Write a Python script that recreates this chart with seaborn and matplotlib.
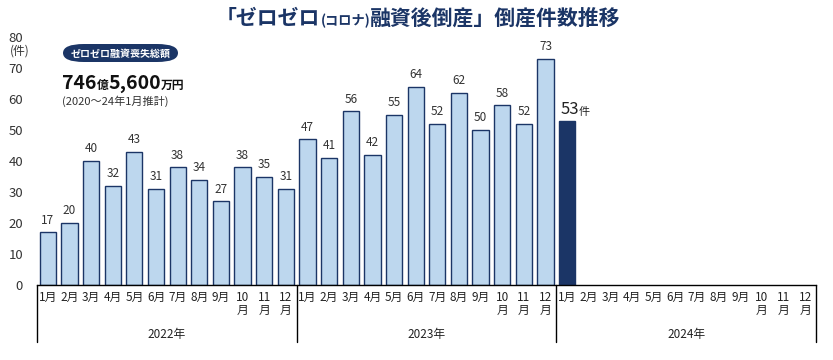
import numpy as np
import pandas as pd
import seaborn as sns
import matplotlib.pyplot as plt
from matplotlib.patches import FancyBboxPatch

years = ["2022年", "2023年", "2024年"]
month_labels = ["1月", "2月", "3月", "4月", "5月", "6月", "7月", "8月", "9月", "10\n月", "11\n月", "12\n月"]
counts_2022 = [17, 20, 40, 32, 43, 31, 38, 34, 27, 38, 35, 31]
counts_2023 = [47, 41, 56, 42, 55, 64, 52, 62, 50, 58, 52, 73]
counts_2024 = [53]

NAVY = "#1b3566"
LIGHT = "#bdd7ee"
TEXT = "#333333"

sns.set_style("white")
plt.rcParams["font.family"] = ["Noto Sans CJK JP", "DejaVu Sans"]

# build one row per month slot (36 slots, empty months are NaN)
rows = []
for yi, (yr, vals) in enumerate(zip(years, [counts_2022, counts_2023, counts_2024])):
    for m in range(12):
        v = vals[m] if m < len(vals) else np.nan
        rows.append({"slot": f"{yr}-{m + 1}", "count": v,
                     "kind": "latest" if (yr == "2024年" and m == 0) else "past"})
df = pd.DataFrame(rows)
order = list(df["slot"])

fig = plt.figure(figsize=(8.33, 3.6), dpi=100)
ax = fig.add_axes([37 / 833, 1 - 285 / 360, (816 - 37) / 833, (285 - 37) / 360])

sns.barplot(data=df.dropna(), x="slot", y="count", order=order, hue="kind",
            palette={"past": LIGHT, "latest": NAVY}, edgecolor=NAVY, linewidth=1.0,
            width=0.75, saturation=1, legend=False, ax=ax)

ax.set_xlim(-0.5, 35.5)
ax.set_ylim(0, 80)
ax.set_yticks(range(0, 81, 10))
ax.tick_params(axis="y", length=0, pad=10, labelsize=9.5, labelcolor=TEXT)
ax.set_xticks([])
ax.set_xlabel("")
ax.set_ylabel("")
for s in ["top", "right", "left"]:
    ax.spines[s].set_visible(False)
ax.spines["bottom"].set_color("black")
ax.spines["bottom"].set_linewidth(1.0)

# value labels
for i, row in df.iterrows():
    if np.isnan(row["count"]):
        continue
    if row["kind"] == "latest":
        ax.annotate(f"{int(row['count'])}", (i, row["count"]), xytext=(-5, 2),
                    textcoords="offset points", ha="left", va="bottom",
                    fontsize=12, color="#222222")
        ax.annotate("件", (i, row["count"]), xytext=(8, 3),
                    textcoords="offset points", ha="left", va="bottom",
                    fontsize=8, color="#222222")
    else:
        ax.annotate(f"{int(row['count'])}", (i, row["count"]), xytext=(0, 4),
                    textcoords="offset points", ha="center", va="bottom",
                    fontsize=8.5, color=TEXT)

# month & year labels below the axis
trans = ax.get_xaxis_transform()
for k in range(36):
    ax.text(k, -0.025, month_labels[k % 12], transform=trans, ha="center", va="top",
            fontsize=8.5, color="#222222", linespacing=1.0)
for yi, yr in enumerate(years):
    ax.text(yi * 12 + 5.5, -0.2, yr, transform=trans, ha="center", va="center",
            fontsize=8.5, color="#222222")
for xb in [-0.5, 11.5, 23.5, 35.5]:
    ax.plot([xb, xb], [0, -0.23], transform=trans, color="black", lw=1.0, clip_on=False)

# unit label
fig.text(10 / 833, 1 - 51 / 360, "(件)", fontsize=8.5, color=TEXT, va="center", ha="left")

renderer = fig.canvas.get_renderer()


def put_parts(x, y, parts, **kw):
    for s, size in parts:
        t = fig.text(x, y, s, fontsize=size, va="baseline", ha="left", **kw)
        bb = t.get_window_extent(renderer)
        x = bb.x1 / fig.bbox.width
    return x


# title, with the "(コロナ)" part smaller
title_parts = [("「ゼロゼロ", 15), ("(コロナ)", 9.5), ("融資後倒産」倒産件数推移", 15)]
put_parts(216 / 833, 1 - 25 / 360, title_parts, fontweight="bold", color=NAVY)

# pill label
pill = FancyBboxPatch((63 / 833, 1 - 62 / 360), 115 / 833, 18 / 360,
                      boxstyle="round,pad=0,rounding_size=0.025",
                      transform=fig.transFigure, facecolor=NAVY, edgecolor="none")
fig.patches.append(pill)
fig.text(120.5 / 833, 1 - 53.5 / 360, "ゼロゼロ融資喪失総額", fontsize=7.2, fontweight="bold",
         color="white", ha="center", va="center")

put_parts(62 / 833, 1 - 89 / 360, [("746", 14), ("億", 8.5), ("5,600", 14), ("万円", 8.5)],
          fontweight="bold", color="#111111")
fig.text(62 / 833, 1 - 101 / 360, "(2020～24年1月推計)", fontsize=8, color=TEXT,
         ha="left", va="center")

fig.savefig("out.png", dpi=100)
